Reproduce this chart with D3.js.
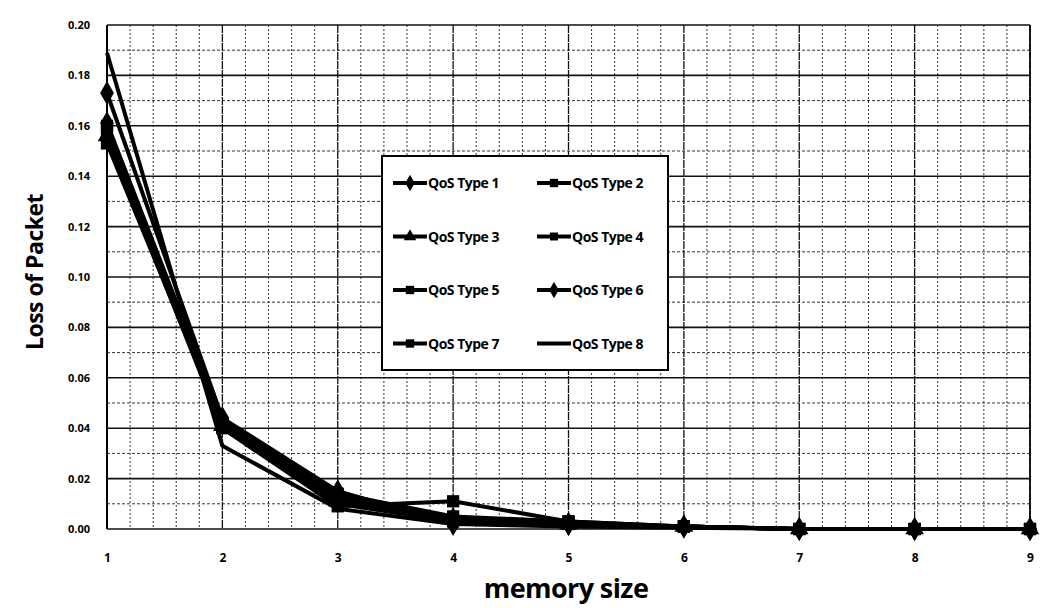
<!DOCTYPE html>
<html><head><meta charset="utf-8">
<script src="https://cdn.jsdelivr.net/npm/d3@7/dist/d3.min.js"></script>
<style>body{margin:0;background:#fff}svg{display:block}text{font-family:"Open Sans","Liberation Sans",sans-serif;font-weight:bold;fill:#000}</style>
</head><body><svg id="c" width="1042" height="608"></svg>
<script>
const memorySizes = [1,2,3,4,5,6,7,8,9];
const seriesNames = ["QoS Type 1","QoS Type 2","QoS Type 3","QoS Type 4","QoS Type 5","QoS Type 6","QoS Type 7","QoS Type 8"];
const type1 = [0.161,0.043,0.013,0.004,0.002,0.001,0,0,0];
const type2 = [0.158,0.042,0.012,0.003,0.002,0.001,0,0,0];
const type3 = [0.156,0.041,0.011,0.004,0.002,0.001,0,0,0];
const type4 = [0.155,0.040,0.010,0.003,0.002,0.001,0,0,0];
const type5 = [0.153,0.042,0.014,0.005,0.003,0.001,0,0,0];
const type6 = [0.173,0.044,0.015,0.002,0.002,0.001,0,0,0];
const type7 = [0.160,0.040,0.009,0.011,0.003,0.001,0,0,0];
const type8 = [0.189,0.033,0.008,0.002,0.001,0.0005,0,0,0];
const markers = ["diamond","square","triangle","cross","square","diamond","square",null];
const yTicks = [0,0.02,0.04,0.06,0.08,0.10,0.12,0.14,0.16,0.18,0.20];
const xTickLabels = ["1","2","3","4","5","6","7","8","9"];

const allSeries = [type1,type2,type3,type4,type5,type6,type7,type8];
const svg = d3.select("#c");
const L=107,R=1030,T=25,B=529;
const x = d3.scaleLinear().domain([1,9]).range([L,R]);
const y = d3.scaleLinear().domain([0,0.2]).range([B,T]);

const g = svg.append("g");
// minor grid
const minorX = d3.range(1,9.001,0.2).filter(v=>Math.abs(v-Math.round(v))>1e-6);
g.selectAll(".mx").data(minorX).enter().append("line")
  .attr("x1",d=>x(d)).attr("x2",d=>x(d)).attr("y1",T).attr("y2",B)
  .attr("stroke","#333").attr("stroke-width",1).attr("stroke-dasharray","2,2");
const minorY = d3.range(0.01,0.2,0.02);
g.selectAll(".my").data(minorY).enter().append("line")
  .attr("x1",L).attr("x2",R).attr("y1",d=>y(d)).attr("y2",d=>y(d))
  .attr("stroke","#333").attr("stroke-width",1).attr("stroke-dasharray","3,2");
// major grid
g.selectAll(".Mx").data(memorySizes).enter().append("line")
  .attr("x1",d=>x(d)).attr("x2",d=>x(d)).attr("y1",T).attr("y2",B)
  .attr("stroke","#111").attr("stroke-width",1.3).attr("stroke-dasharray","8,1");
g.selectAll(".My").data(yTicks).enter().append("line")
  .attr("x1",L).attr("x2",R).attr("y1",d=>y(d)).attr("y2",d=>y(d))
  .attr("stroke","#111").attr("stroke-width",1.6);
g.append("line").attr("x1",L).attr("x2",L).attr("y1",T).attr("y2",B).attr("stroke","#000").attr("stroke-width",2);
g.append("line").attr("x1",R).attr("x2",R).attr("y1",T).attr("y2",B).attr("stroke","#000").attr("stroke-width",1.6);

// axes labels
const yAxis = d3.axisLeft(y).tickValues(yTicks).tickFormat(d3.format(".2f")).tickSize(0).tickPadding(17);
const ya = svg.append("g").attr("transform",`translate(${L},0)`).call(yAxis);
ya.select(".domain").remove();
ya.selectAll("text").style("font-size","11px").style("font-weight","bold").attr("font-family",'"Open Sans","Liberation Sans",sans-serif');
const xAxis = d3.axisBottom(x).tickValues(memorySizes).tickFormat((d,i)=>xTickLabels[i]).tickSize(0).tickPadding(24);
const xa = svg.append("g").attr("transform",`translate(0,${B})`).call(xAxis);
xa.select(".domain").remove();
xa.selectAll("text").style("font-size","12px").style("font-weight","bold").attr("font-family",'"Open Sans","Liberation Sans",sans-serif');

svg.append("text").attr("x",566).attr("y",598).attr("text-anchor","middle").style("font-size","27px").style("letter-spacing","-0.6px").text("memory size");
svg.append("text").attr("transform","translate(43,272) rotate(-90)").attr("text-anchor","middle").style("font-size","23px").style("letter-spacing","-0.5px").text("Loss of Packet");

// lines
const line = d3.line().x((d,i)=>x(memorySizes[i])).y(d=>y(d));
function marker(sel,type,size){
  if(!type) return;
  if(type==="diamond") sel.append("path").attr("d",d3.symbol(d3.symbolDiamond,size*1.1)());
  else if(type==="square") sel.append("path").attr("d",d3.symbol(d3.symbolSquare,size)());
  else if(type==="triangle") sel.append("path").attr("d",d3.symbol(d3.symbolTriangle,size)());
  else if(type==="cross") sel.append("path").attr("d",d3.symbol(d3.symbolSquare,size*0.9)());
}
const sg = svg.append("g");
allSeries.forEach((s,k)=>{
  sg.append("path").datum(s).attr("d",line).attr("fill","none").attr("stroke","#000").attr("stroke-width",4).attr("stroke-linejoin","round");
});
allSeries.forEach((s,k)=>{
  s.forEach((v,i)=>{
    const m = sg.append("g").attr("transform",`translate(${x(memorySizes[i])},${y(v)})`).attr("fill","#000");
    marker(m,markers[k],150);
  });
});

// legend
const lg = svg.append("g");
lg.append("rect").attr("x",382).attr("y",156).attr("width",286).attr("height",214).attr("fill","#fff").attr("stroke","#000").attr("stroke-width",2);
seriesNames.forEach((n,k)=>{
  const col = k%2, row = Math.floor(k/2);
  const lx = col===0?393:537, ly = 183 + row*53.5;
  lg.append("line").attr("x1",lx).attr("x2",lx+34).attr("y1",ly).attr("y2",ly).attr("stroke","#000").attr("stroke-width",4);
  const m = lg.append("g").attr("transform",`translate(${lx+17},${ly})`).attr("fill","#000");
  marker(m,markers[k],70);
  lg.append("text").attr("x",lx+35).attr("y",ly+5).style("font-size","14px").style("letter-spacing","-0.5px").text(n);
});
</script></body></html>
